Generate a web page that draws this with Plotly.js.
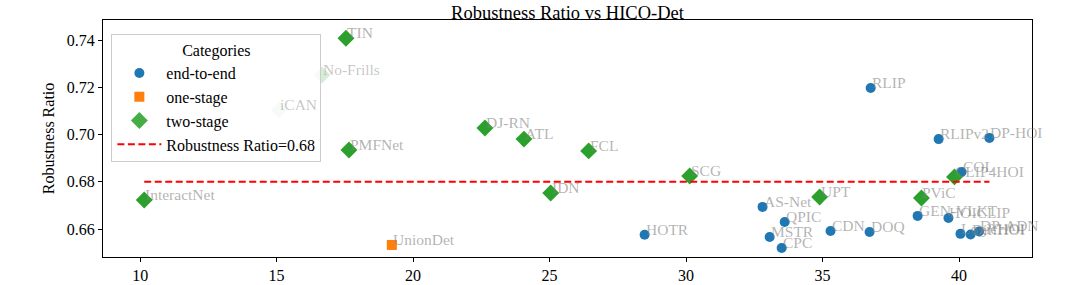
<!DOCTYPE html>
<html>
<head>
<meta charset="utf-8">
<script src="https://cdn.plot.ly/plotly-3.0.1.min.js"></script>
<style>
html,body{margin:0;padding:0;background:#fff;}
#chart{width:1091px;height:285px;}
#chart svg text{font-family:"Liberation Serif", serif !important;}
</style>
</head>
<body>
<div id="chart"></div>
<script>
// end-to-end
const e2eNames = ["RLIP","RLIPv2","DP-HOI","COL","HOTR","AS-Net","QPIC","MSTR","CPC","CDN","DOQ","GEN-VLKT","HOICLIP","LogicHOI","DiffHOI","DP-ADN"];
const e2eX = [36.76,39.25,41.11,40.09,28.48,32.80,33.61,33.06,33.50,35.29,36.72,38.48,39.61,40.05,40.42,40.73];
const e2eY = [0.7197,0.6981,0.6986,0.6842,0.6576,0.6694,0.6630,0.6567,0.6520,0.6592,0.6588,0.6656,0.6647,0.6580,0.6577,0.6590];
const e2eAlpha = [1,1,1,1,1,1,1,1,1,1,1,1,1,1,1,1];
// one-stage
const oneNames = ["UnionDet"];
const oneX = [19.22];
const oneY = [0.6533];
const oneAlpha = [1];
// two-stage
const twoNames = ["TIN","No-Frills","iCAN","PMFNet","DJ-RN","ATL","FCL","SCG","IDN","InteractNet","UPT","PViC","CLIP4HOI"];
const twoX = [17.54,16.66,15.09,17.65,22.63,24.06,26.43,30.13,25.04,10.15,34.89,38.62,39.83];
const twoY = [0.7408,0.7252,0.7104,0.6935,0.7028,0.6981,0.6931,0.6825,0.6753,0.6723,0.6736,0.6732,0.6821];
const twoAlpha = [1,0.2,0.2,1,1,1,1,1,1,1,1,1,1];
const refValue = 0.68;
const refLabel = "Robustness Ratio=0.68";

const allX = e2eX.concat(oneX, twoX);
const xmin = Math.min(...allX), xmax = Math.max(...allX);

const serif = "Liberation Serif";

const traces = [
  {type:"scatter", mode:"markers", name:"end-to-end", x:e2eX, y:e2eY,
   marker:{symbol:"circle", size:10, color:"#1f77b4", opacity:e2eAlpha}},
  {type:"scatter", mode:"markers", name:"one-stage", x:oneX, y:oneY,
   marker:{symbol:"square", size:10, color:"#ff7f0e", opacity:oneAlpha}},
  {type:"scatter", mode:"markers", name:"two-stage", x:twoX, y:twoY,
   marker:{symbol:"diamond", size:13, color:"#2ca02c", opacity:twoAlpha}},
  {type:"scatter", mode:"lines", name:refLabel, x:[xmin,xmax], y:[refValue,refValue],
   line:{color:"red", width:2, dash:"7px,3.5px"}}
];

const annotations = [];
function addLabels(names, xs, ys, alphas){
  names.forEach((n,i)=>{
    annotations.push({x:xs[i], y:ys[i], xref:"x", yref:"y", text:n, showarrow:false,
      xanchor:"left", yanchor:"bottom", xshift:-1, yshift:-5,
      font:{family:serif, size:15.5, color: alphas[i] < 1 ? "rgba(128,128,128,0.45)" : "rgba(128,128,128,0.6)"}});
  });
}
addLabels(e2eNames, e2eX, e2eY, e2eAlpha);
addLabels(oneNames, oneX, oneY, oneAlpha);
addLabels(twoNames, twoX, twoY, twoAlpha);

const layout = {
  width:1091, height:285,
  margin:{l:103, r:59, t:20, b:28},
  paper_bgcolor:"#fff", plot_bgcolor:"#fff",
  font:{family:serif, size:16, color:"#000"},
  title:{text:"Robustness Ratio vs HICO-Det", font:{family:serif, size:18.5, color:"#000"},
         x:0.5, xref:"paper", xanchor:"center", y:0.955, yref:"container", yanchor:"middle"},
  xaxis:{range:[8.64,42.67], tickvals:[10,15,20,25,30,35,40], ticktext:["10","15","20","25","30","35","40"],
         showgrid:false, zeroline:false, showline:true, mirror:true, linecolor:"#000", linewidth:1,
         ticks:"outside", ticklen:4, tickcolor:"#000", tickfont:{family:serif, size:16, color:"#000"}},
  yaxis:{range:[0.6482,0.7485], tickvals:[0.66,0.68,0.70,0.72,0.74], ticktext:["0.66","0.68","0.70","0.72","0.74"],
         showgrid:false, zeroline:false, showline:true, mirror:true, linecolor:"#000", linewidth:1,
         ticks:"outside", ticklen:4, tickcolor:"#000", tickfont:{family:serif, size:16, color:"#000"},
         title:{text:"Robustness Ratio", font:{family:serif, size:16, color:"#000"}, standoff:8}},
  legend:{x:0.009, y:0.94, xanchor:"left", yanchor:"top", bgcolor:"rgba(255,255,255,0.8)",
          bordercolor:"#ccc", borderwidth:1, font:{family:serif, size:16, color:"#000"},
          title:{text:"Categories", side:"top center", font:{family:serif, size:16, color:"#000"}},
          itemsizing:"trace", itemwidth:44},
  showlegend:true,
  annotations:annotations
};

Plotly.newPlot("chart", traces, layout, {displayModeBar:false, staticPlot:true});
</script>
</body>
</html>
